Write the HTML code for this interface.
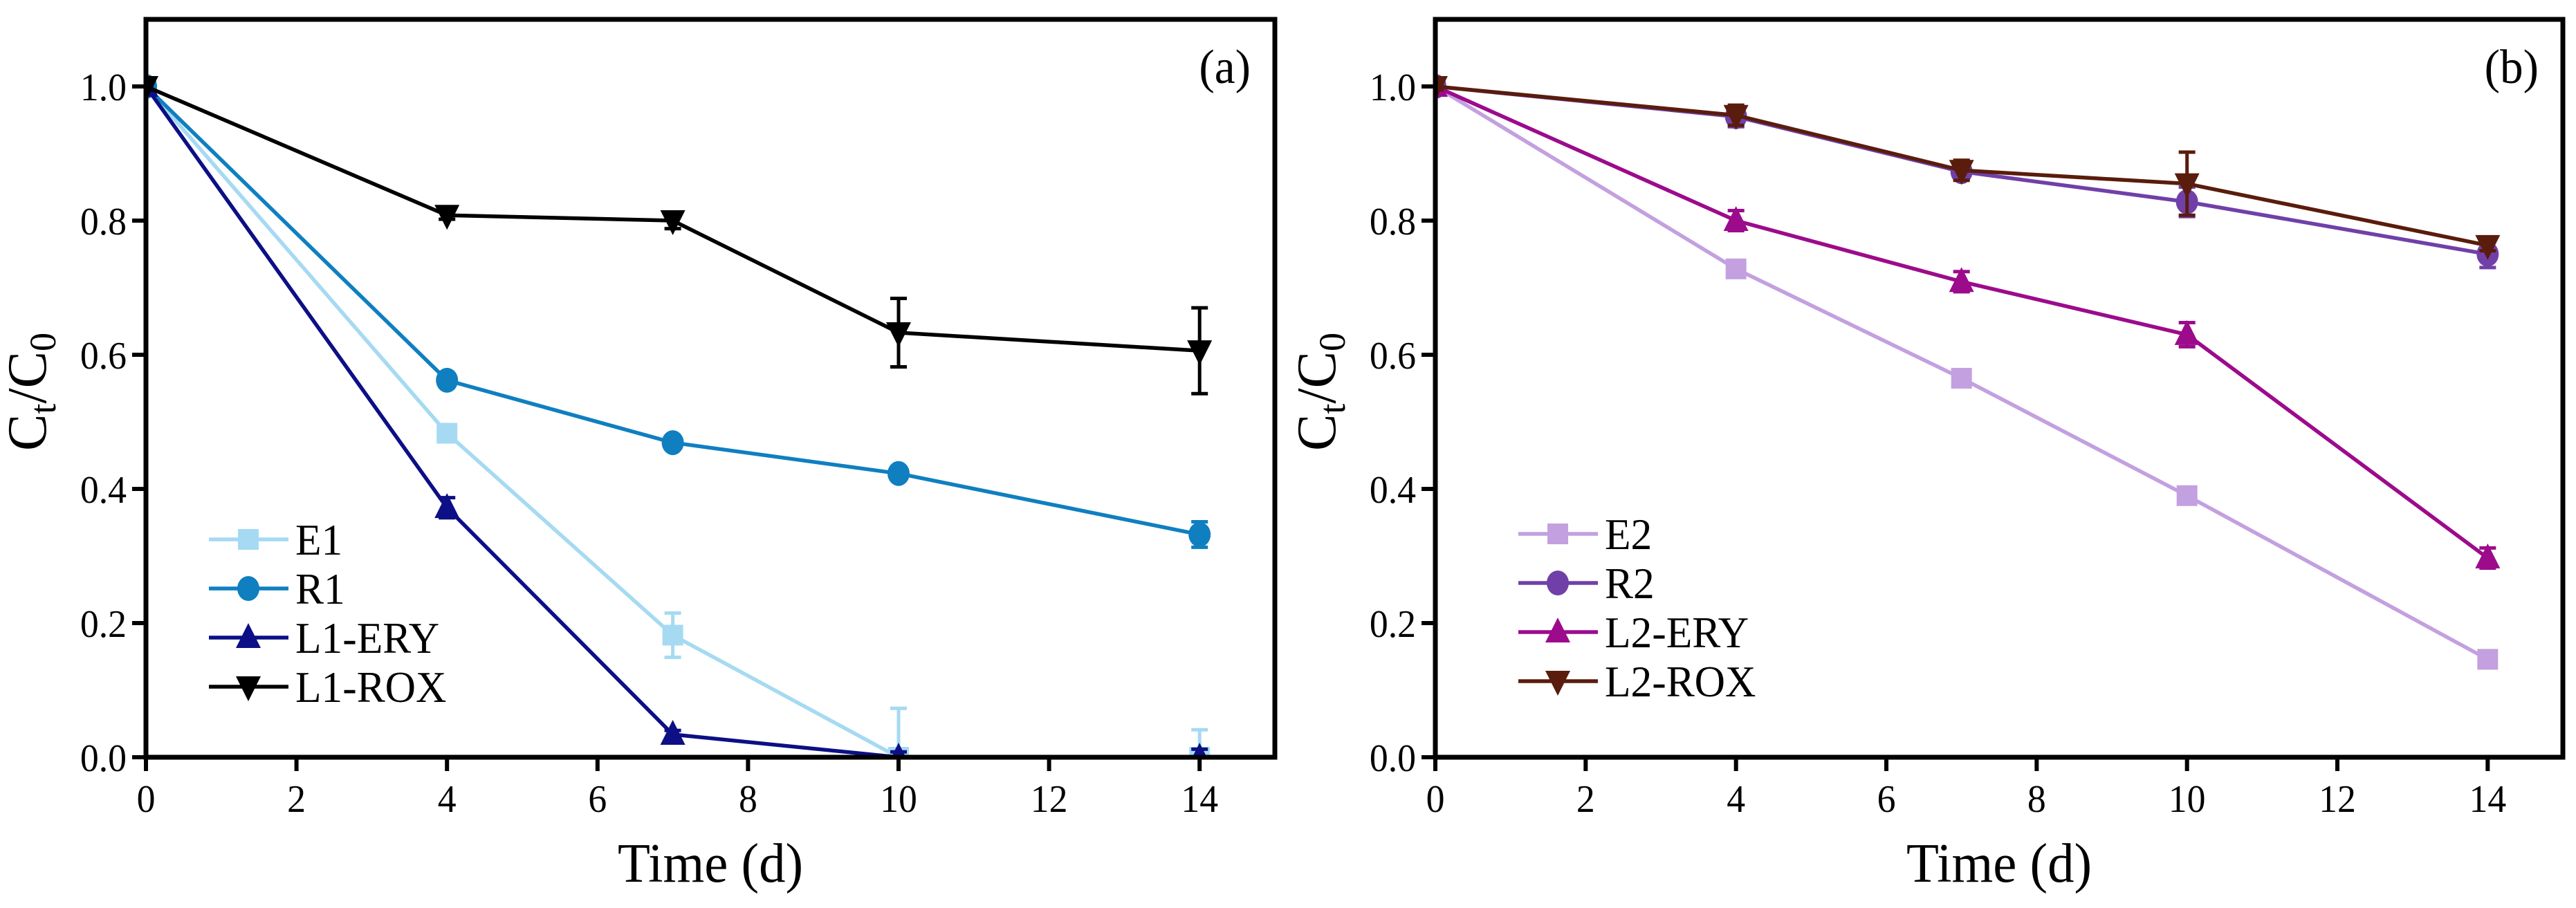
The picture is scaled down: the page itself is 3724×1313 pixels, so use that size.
<!DOCTYPE html>
<html><head><meta charset="utf-8"><style>
html,body{margin:0;padding:0;background:#fff;}
svg{display:block;font-family:"Liberation Serif","Times New Roman",serif;}
</style></head><body>
<svg id="chart" width="3724" height="1313" viewBox="0 0 3724 1313" xmlns="http://www.w3.org/2000/svg"></svg>
<script>
const timeDays = [0, 4, 7, 10, 14];
const xTicks = [0, 2, 4, 6, 8, 10, 12, 14];
const yTicks = [0.0, 0.2, 0.4, 0.6, 0.8, 1.0];
const yTickLabels = ["0.0", "0.2", "0.4", "0.6", "0.8", "1.0"];
// Panel (a)
const namesA = ["E1", "R1", "L1-ERY", "L1-ROX"];
const e1 = [1.0, 0.483, 0.182, 0.0, 0.0];
const e1Err = [0.005, 0.01, 0.033, 0.073, 0.041];
const r1 = [1.0, 0.562, 0.469, 0.423, 0.332];
const r1Err = [0.005, 0.008, 0.008, 0.01, 0.019];
const l1ery = [1.0, 0.372, 0.034, 0.0, 0.0];
const l1eryErr = [0.005, 0.015, 0.006, 0.008, 0.012];
const l1rox = [1.0, 0.808, 0.800, 0.633, 0.606];
const l1roxErr = [0.005, 0.006, 0.012, 0.051, 0.064];
// Panel (b)
const namesB = ["E2", "R2", "L2-ERY", "L2-ROX"];
const e2 = [1.0, 0.728, 0.565, 0.390, 0.146];
const e2Err = [0.005, 0.006, 0.008, 0.006, 0.006];
const r2 = [1.0, 0.955, 0.873, 0.828, 0.750];
const r2Err = [0.005, 0.015, 0.01, 0.022, 0.02];
const l2ery = [1.0, 0.800, 0.709, 0.630, 0.297];
const l2eryErr = [0.005, 0.015, 0.015, 0.018, 0.015];
const l2rox = [1.0, 0.957, 0.875, 0.855, 0.763];
const l2roxErr = [0.005, 0.015, 0.015, 0.047, 0.008];

const NS = "http://www.w3.org/2000/svg";
const svg = document.getElementById("chart");
function mk(tag, attrs, parent) {
  const e = document.createElementNS(NS, tag);
  for (const k in attrs) e.setAttribute(k, attrs[k]);
  (parent || svg).appendChild(e);
  return e;
}
const SX = 0.96;
function txt(str, x, y, size, anchor, parent) {
  const g = mk("g", {transform: `translate(${x},${y}) scale(${SX},1)`}, parent);
  const t = mk("text", {x: 0, y: 0, "font-size": size, "text-anchor": anchor, fill: "#000"}, g);
  t.textContent = str;
  return t;
}
function marker(type, cx, cy, color, parent) {
  let m;
  if (type === "square") m = mk("rect", {x: cx - 15, y: cy - 15, width: 30, height: 30, fill: color}, parent);
  else if (type === "circle") m = mk("ellipse", {cx: cx, cy: cy, rx: 16, ry: 18, fill: color}, parent);
  else if (type === "up") m = mk("polygon", {points: `${cx},${cy - 21} ${cx - 18},${cy + 15} ${cx + 18},${cy + 15}`, fill: color}, parent);
  else m = mk("polygon", {points: `${cx},${cy + 21} ${cx - 18},${cy - 15} ${cx + 18},${cy - 15}`, fill: color}, parent);
  return m;
}

function panel(id, L, R, label, names, series, errs, colors, markers, legendX, legendY) {
  const T = 28, B = 1095;
  const xs = v => L + (v / 15) * (R - L);
  const ys = v => B - (v / 1.1) * (B - T);
  const g = mk("g", {});
  
  
  const clipId = "clip" + id;
  const cp = mk("clipPath", {id: clipId}, g);
  mk("rect", {x: L, y: T, width: R - L, height: B - T}, cp);
  const plot = mk("g", {"clip-path": `url(#${clipId})`}, g);
  series.forEach((s, si) => {
    const sg = mk("g", {}, plot);
    
    
    const pts = s.map((v, i) => `${xs(timeDays[i])},${ys(v)}`).join(" ");
    mk("polyline", {points: pts, fill: "none", stroke: colors[si], "stroke-width": 5.5, "stroke-linejoin": "round"}, sg);
    s.forEach((v, i) => {
      const x = xs(timeDays[i]), e = errs[si][i];
      const y1 = ys(v + e), y2 = ys(v - e);
      const eb = mk("path", {d: `M${x},${y1}V${y2}M${x - 12},${y1}H${x + 12}M${x - 12},${y2}H${x + 12}`, stroke: colors[si], "stroke-width": 5, fill: "none"}, sg);
      
      
      const m = marker(markers[si], x, ys(v), colors[si], sg);
      
      
    });
  });
  const fr = mk("rect", {x: L, y: T, width: R - L, height: B - T, fill: "none", stroke: "#000", "stroke-width": 7}, g);
  
  
  xTicks.forEach(v => {
    const x = xs(v);
    mk("line", {x1: x, y1: B, x2: x, y2: B + 20, stroke: "#000", "stroke-width": 6}, g);
    const t = txt(String(v), x, 1174, 56, "middle", g);
    
    
  });
  yTicks.forEach((v, i) => {
    const y = ys(v);
    mk("line", {x1: L - 20, y1: y, x2: L, y2: y, stroke: "#000", "stroke-width": 6}, g);
    const t = txt(yTickLabels[i], L - 28, y + 20, 56, "end", g);
    
    
  });
  const xt = txt("Time (d)", (L + R) / 2, 1275, 80, "middle", g);
  
  
  const yt = mk("text", {transform: `translate(${L - 145},${(T + B) / 2 + 5}) rotate(-90)`, "font-size": 80, "text-anchor": "middle"}, g);
  
  
  yt.innerHTML = 'C<tspan font-size="54" dy="14">t</tspan><tspan dy="-14">/C</tspan><tspan font-size="54" dy="14">0</tspan>';
  const pl = txt(label, R - 35, 120, 70, "end", g);
  
  
  const lg = mk("g", {}, g);
  
  
  names.forEach((n, i) => {
    const y = legendY + i * 71;
    const e = mk("g", {}, lg);
    
    
    mk("line", {x1: legendX, y1: y, x2: legendX + 115, y2: y, stroke: colors[i], "stroke-width": 5.5}, e);
    marker(markers[i], legendX + 57, y, colors[i], e);
    txt(n, legendX + 125, y + 22, 64, "start", e);
  });
}
const mk4 = ["square", "circle", "up", "down"];
panel("a", 211, 1843, "(a)", namesA, [e1, r1, l1ery, l1rox], [e1Err, r1Err, l1eryErr, l1roxErr],
  ["#a6daf2", "#0f7fc0", "#0c0f85", "#000000"], mk4, 302, 780);
panel("b", 2075, 3705, "(b)", namesB, [e2, r2, l2ery, l2rox], [e2Err, r2Err, l2eryErr, l2roxErr],
  ["#c3a0df", "#7040a8", "#9c0b8c", "#5a1c0c"], mk4, 2195, 772);
</script>
</body></html>
